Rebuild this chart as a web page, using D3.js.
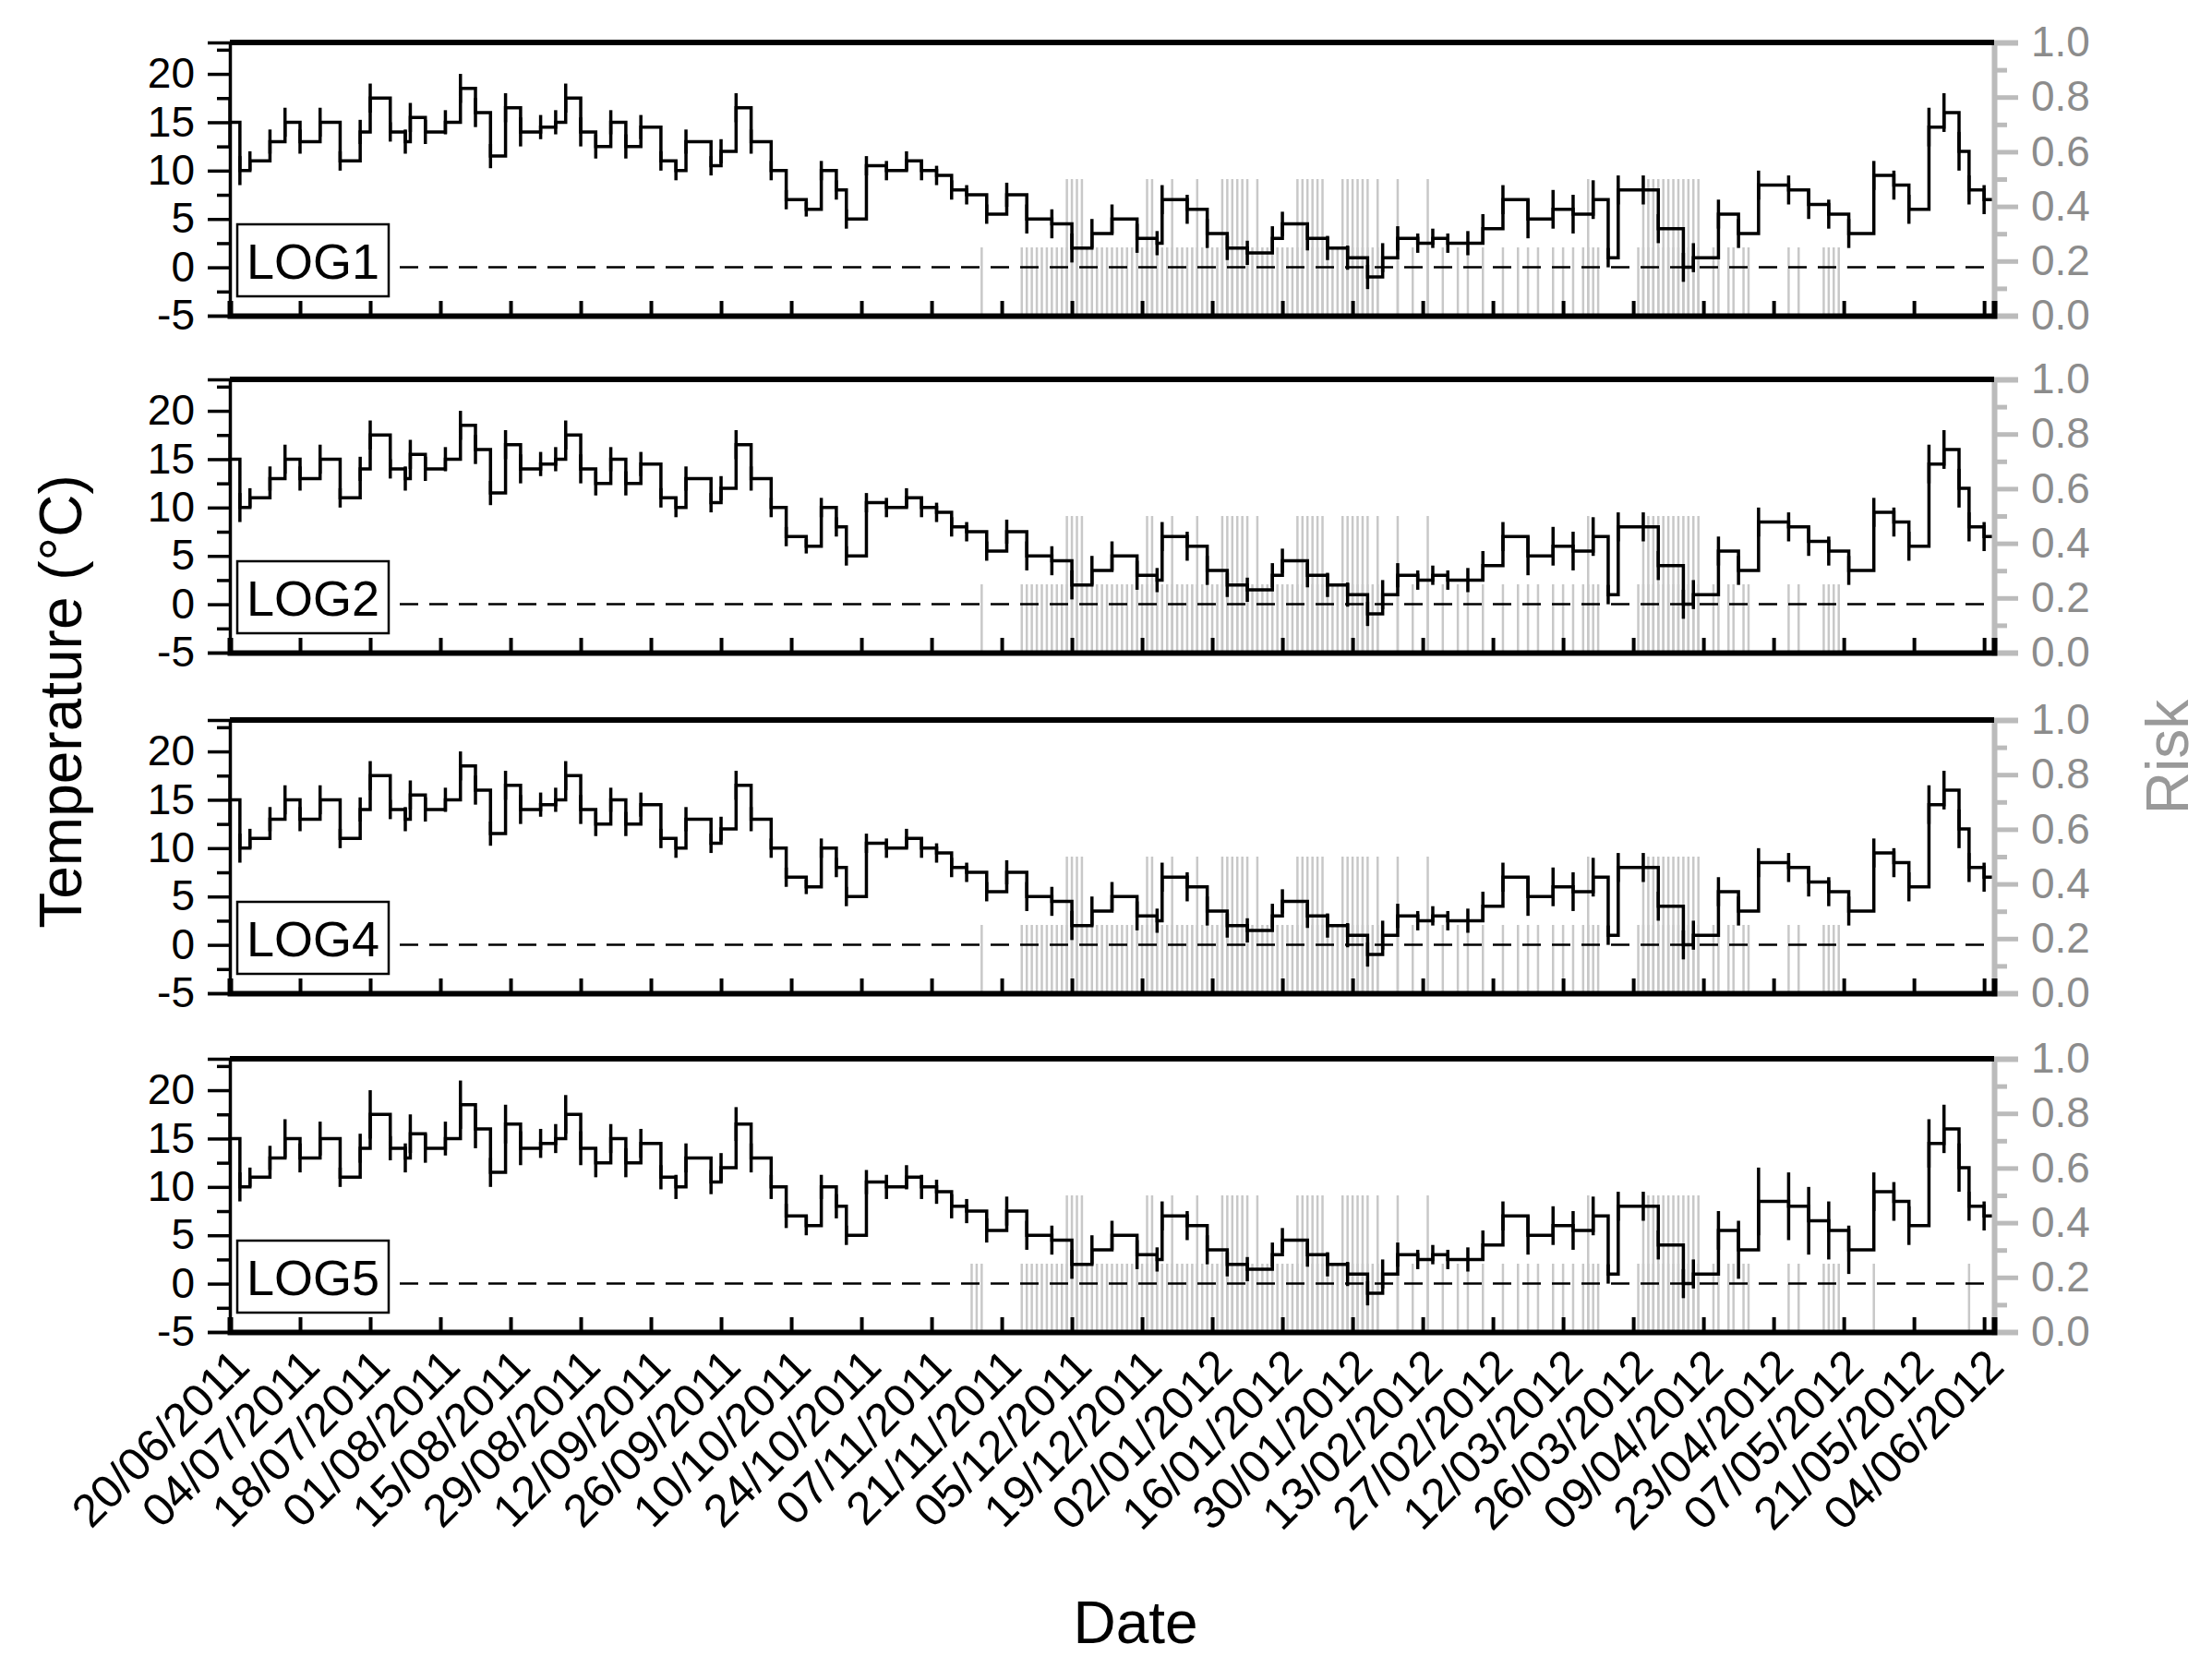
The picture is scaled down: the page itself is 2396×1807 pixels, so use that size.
<!DOCTYPE html>
<html><head><meta charset="utf-8">
<script src="https://cdn.jsdelivr.net/npm/d3@7"></script>
<style>body{margin:0;background:#fff}text{font-family:"Liberation Sans",Arial,sans-serif}</style>
</head><body>
<svg id="c" width="2396" height="1807"></svg>
<script>
const loggers = ["LOG1","LOG2","LOG4","LOG5"];
const startDate = new Date(2011,5,20);
const tickLabels = ["20/06/2011","04/07/2011","18/07/2011","01/08/2011","15/08/2011","29/08/2011","12/09/2011","26/09/2011","10/10/2011","24/10/2011","07/11/2011","21/11/2011","05/12/2011","19/12/2011","02/01/2012","16/01/2012","30/01/2012","13/02/2012","27/02/2012","12/03/2012","26/03/2012","09/04/2012","23/04/2012","07/05/2012","21/05/2012","04/06/2012"];
const tempTicks = [-5,0,5,10,15,20];
const riskTicks = [0,0.2,0.4,0.6,0.8,1.0];
const days = [0,2,4,8,11,14,18,22,26,28,32,35,36,39,43,46,49,52,55,58,62,65,67,70,73,76,79,82,86,89,91,96,98,101,104,108,111,115,118,121,123,127,131,135,138,141,144,147,151,155,159,164,168,172,176,181,185,186,191,195,199,203,208,210,215,219,223,227,230,233,237,240,243,247,250,254,259,264,268,272,275,277,282,285,290,292,297,301,305,311,315,319,323,328,332,335,339,342,345,347,350,352];
const tempMean = [15,10,11,13,15,13,15,11,14,17.5,14,13,15.5,14,15,18.5,16,11.5,16.5,14,14.5,15,17.5,14,12.5,15,12.5,14.5,11,10,13,10.5,12,16.5,13,10,7,6,10,8,5,10.5,10,11,10,9.5,8,7.5,5.5,7.5,5,4.5,2,3.5,5,3,2.5,7,6,3.5,2,1.5,3,4.5,3,2,1,-1,1,3,2.5,3,2.5,2.5,4,7,5,6,5.5,7,1,8,8,4,0,1,5.5,3.5,8.5,8,6.5,5.5,3.5,9.5,8.5,6,14.5,16,12,8,7,11];
const tempRange = [5,3,2,2.5,3,2.5,3,2,2.5,3,2,2.5,3,2.5,2.5,3,3,2.5,3,3,2.5,2.5,3,3,2.5,2.5,2.5,2.5,2,2,2.5,2,2.5,3,2.5,2,2,1.5,2,2,2,2,2,2,2,2,2,2,2,2.5,3,3,3,3,3,3,2.5,3,3,3,2.5,2.5,2.5,2.5,2.5,2.5,2.5,2.5,3,2.5,2,2,2,2.5,3,3,4,4,4,4,2,3,3,3,3,3,3,3,3,3,3,3,3,3,3,3,4,4,4,3,3,3];
const tempRangeLog5 = [5,3,2,2.5,4,3,3.5,2,3,5,2.5,3,4,3,3.5,5,4,3,4,3.5,3,3,4,3.5,3,3,3,3,2.5,2.5,3,2.5,3,3.5,3,2.5,2.5,2,2.5,2.5,2,2.5,2.5,2.5,2.5,2.5,2.5,2.5,2.5,3,3,3,3,3,3,3,2.5,3,3,3,2.5,2.5,2.5,2.5,2.5,2.5,2.5,2.5,3,2.5,2,2,2,2.5,3,3,4,4,4,4,2,3,3,3,3,3,4,6,7,7,7,6,5,4,4,4,5,5,5,3,3,3];
const riskHighDays = [167,168,169,170,183,184,188,193,198,199,200,201,202,203,205,213,214,215,216,217,218,222,223,224,225,226,227,229,233,239,271,282,283,284,285,286,287,288,289,290,291,292,293];
const riskLowDays = [150,158,159,160,161,162,163,164,165,166,167,168,169,170,171,172,173,174,175,176,177,178,179,180,181,182,183,184,185,186,187,188,189,190,191,192,193,194,195,196,197,198,199,200,201,202,203,204,205,206,207,208,209,210,211,212,213,214,215,216,217,218,219,220,221,222,223,224,225,226,227,228,229,233,236,239,242,245,247,250,254,257,259,261,264,266,268,270,271,272,273,281,282,283,284,285,286,287,288,289,290,291,292,293,296,297,299,300,302,303,311,313,318,319,320,321];
const riskLowExtraLog5 = [148,149,328,347];
const riskHighValue = 0.5, riskLowValue = 0.25;

const svg = d3.select("#c");
const L = 249, R = 2160;
const panelTops = [46,411,780,1147], panelH = 296;
const x = d3.scaleTime().domain([startDate, d3.timeDay.offset(startDate,352)]).range([L,R]);
const dayDate = d => d3.timeDay.offset(startDate,d);
const tickDates = tickLabels.map((t,i)=>dayDate(i*14));

loggers.forEach((name,pi)=>{
  const top = panelTops[pi], bot = top+panelH;
  const y = d3.scaleLinear().domain([-5,23.25]).range([bot,top]);
  const yr = d3.scaleLinear().domain([0,1]).range([bot,top]);
  const g = svg.append("g");
  const lows = pi===3 ? riskLowDays.concat(riskLowExtraLog5) : riskLowDays;
  g.selectAll(".rl").data(lows).enter().append("line")
    .attr("x1",d=>x(dayDate(d))).attr("x2",d=>x(dayDate(d)))
    .attr("y1",yr(0)).attr("y2",yr(riskLowValue)).attr("stroke","#c8c8c8").attr("stroke-width",2.5);
  g.selectAll(".rh").data(riskHighDays).enter().append("line")
    .attr("x1",d=>x(dayDate(d))).attr("x2",d=>x(dayDate(d)))
    .attr("y1",yr(0)).attr("y2",yr(riskHighValue)).attr("stroke","#c8c8c8").attr("stroke-width",2.5);
  g.append("line").attr("x1",433).attr("x2",R).attr("y1",y(0)).attr("y2",y(0))
    .attr("stroke","#000").attr("stroke-width",2.5).attr("stroke-dasharray","20,12");
  const rng = pi===3 ? tempRangeLog5 : tempRange;
  g.append("path").datum(days.map((d,i)=>[d,tempMean[i]]))
    .attr("d",d3.line().x(p=>x(dayDate(p[0]))).y(p=>y(p[1])).curve(d3.curveStepAfter))
    .attr("fill","none").attr("stroke","#000").attr("stroke-width",3.5);
  g.selectAll(".dr").data(days).enter().append("line")
    .attr("x1",d=>x(dayDate(d))).attr("x2",d=>x(dayDate(d)))
    .attr("y1",(d,i)=>y(tempMean[i]-rng[i]/2)).attr("y2",(d,i)=>y(tempMean[i]+rng[i]/2))
    .attr("stroke","#000").attr("stroke-width",3.5);
  const la = g.append("g").attr("transform",`translate(${L},0)`)
    .call(d3.axisLeft(y).tickValues(tempTicks).tickSize(24).tickPadding(14).tickFormat(d=>String(d)));
  la.select(".domain").attr("stroke-width",3.5);
  la.selectAll(".tick line").attr("stroke-width",3.5);
  la.selectAll("text").attr("font-size",46).attr("fill","#000");
  g.append("g").attr("transform",`translate(${L},0)`)
    .call(d3.axisLeft(y).tickValues([-2.5,2.5,7.5,12.5,17.5,22.5]).tickSize(14).tickFormat(""))
    .call(s=>{s.select(".domain").remove();s.selectAll("line").attr("stroke-width",3.5);});
  const ra = g.append("g").attr("transform",`translate(${R},0)`)
    .call(d3.axisRight(yr).tickValues(riskTicks).tickSize(26).tickPadding(14).tickFormat(d3.format(".1f")));
  ra.select(".domain").attr("stroke","#bbb").attr("stroke-width",6);
  ra.selectAll(".tick line").attr("stroke","#bbb").attr("stroke-width",5);
  ra.selectAll("text").attr("font-size",46).attr("fill","#8c8c8c");
  g.append("g").attr("transform",`translate(${R},0)`)
    .call(d3.axisRight(yr).tickValues([0.1,0.3,0.5,0.7,0.9]).tickSize(14).tickFormat(""))
    .call(s=>{s.select(".domain").remove();s.selectAll("line").attr("stroke","#bbb").attr("stroke-width",5);});
  const ba = g.append("g").attr("transform",`translate(0,${bot})`)
    .call(d3.axisBottom(x).tickValues(tickDates).tickSize(-16).tickFormat(""));
  ba.select(".domain").attr("stroke-width",6);
  ba.selectAll("line").attr("stroke-width",4);
  g.append("line").attr("x1",L).attr("x2",R).attr("y1",top).attr("y2",top).attr("stroke","#000").attr("stroke-width",6);
  g.append("rect").attr("x",257).attr("y",top+197).attr("width",164).attr("height",78)
    .attr("fill","#fff").attr("stroke","#000").attr("stroke-width",2.5);
  g.append("text").attr("x",339).attr("y",top+256).attr("text-anchor","middle").attr("font-size",54).text(name);
});

const lastBot = panelTops[3]+panelH;
svg.append("g").selectAll("text").data(tickLabels).enter().append("text")
  .attr("transform",(d,i)=>`translate(${x(tickDates[i])+24},${lastBot+40}) rotate(-45)`)
  .attr("text-anchor","end").attr("font-size",50).text(d=>d);

svg.append("text").attr("x",1230).attr("y",1780).attr("text-anchor","middle").attr("font-size",64).text("Date");
svg.append("text").attr("transform","translate(88,760) rotate(-90)").attr("text-anchor","middle").attr("font-size",64).text("Temperature (°C)");
svg.append("text").attr("transform","translate(2370,820) rotate(-90)").attr("text-anchor","middle").attr("font-size",64).attr("fill","#999").text("Risk");
</script>
</body></html>
